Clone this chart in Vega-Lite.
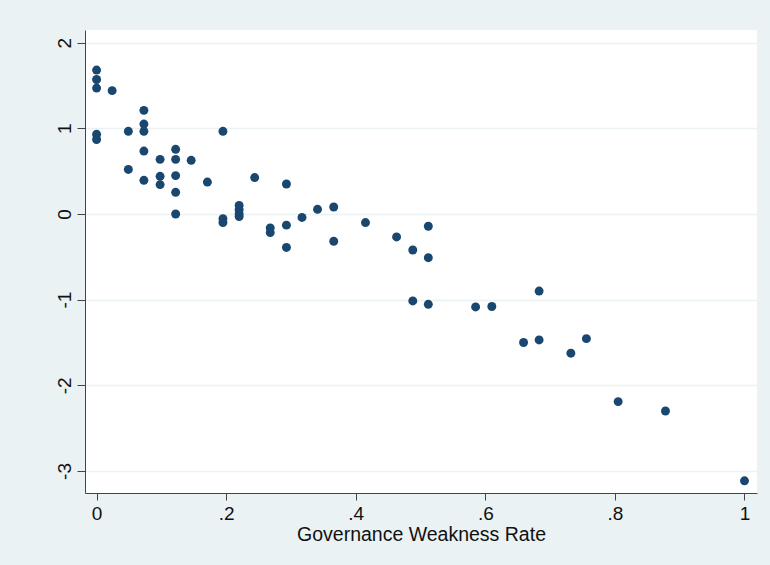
{
  "$schema": "https://vega.github.io/schema/vega-lite/v6.json",
  "width": 672,
  "height": 463,
  "autosize": {"type": "none"},
  "padding": {"left": 85, "top": 30, "right": 13, "bottom": 72},
  "background": "#EAF2F3",
  "config": {
    "view": {"fill": "white", "stroke": null},
    "font": "Liberation Sans"
  },
  "data": {
    "values": [
      {"rate": 0.0, "score": 1.68},
      {"rate": 0.0, "score": 1.57},
      {"rate": 0.0, "score": 1.47},
      {"rate": 0.0, "score": 0.93},
      {"rate": 0.0, "score": 0.87},
      {"rate": 0.024, "score": 1.44},
      {"rate": 0.049, "score": 0.965},
      {"rate": 0.049, "score": 0.52},
      {"rate": 0.073, "score": 1.21},
      {"rate": 0.073, "score": 1.05},
      {"rate": 0.073, "score": 0.965},
      {"rate": 0.073, "score": 0.735},
      {"rate": 0.073, "score": 0.393},
      {"rate": 0.098, "score": 0.638},
      {"rate": 0.098, "score": 0.44},
      {"rate": 0.098, "score": 0.343},
      {"rate": 0.122, "score": 0.755},
      {"rate": 0.122, "score": 0.638},
      {"rate": 0.122, "score": 0.448},
      {"rate": 0.122, "score": 0.253},
      {"rate": 0.122, "score": 0.0},
      {"rate": 0.146, "score": 0.627},
      {"rate": 0.171, "score": 0.373},
      {"rate": 0.195, "score": 0.965},
      {"rate": 0.195, "score": -0.054},
      {"rate": 0.195, "score": -0.10},
      {"rate": 0.22, "score": 0.10},
      {"rate": 0.22, "score": 0.05},
      {"rate": 0.22, "score": 0.0},
      {"rate": 0.22, "score": -0.03},
      {"rate": 0.244, "score": 0.425},
      {"rate": 0.268, "score": -0.163},
      {"rate": 0.268, "score": -0.217},
      {"rate": 0.293, "score": 0.35},
      {"rate": 0.293, "score": -0.13},
      {"rate": 0.293, "score": -0.39},
      {"rate": 0.317, "score": -0.04},
      {"rate": 0.341, "score": 0.055},
      {"rate": 0.366, "score": 0.082},
      {"rate": 0.366, "score": -0.318},
      {"rate": 0.415, "score": -0.10},
      {"rate": 0.463, "score": -0.268},
      {"rate": 0.488, "score": -0.42},
      {"rate": 0.488, "score": -1.015},
      {"rate": 0.512, "score": -0.143},
      {"rate": 0.512, "score": -0.51},
      {"rate": 0.512, "score": -1.054},
      {"rate": 0.585, "score": -1.085},
      {"rate": 0.61, "score": -1.08},
      {"rate": 0.659, "score": -1.50},
      {"rate": 0.683, "score": -0.90},
      {"rate": 0.683, "score": -1.47},
      {"rate": 0.732, "score": -1.625},
      {"rate": 0.756, "score": -1.455},
      {"rate": 0.805, "score": -2.19},
      {"rate": 0.878, "score": -2.30},
      {"rate": 1.0, "score": -3.115}
    ]
  },
  "mark": {"type": "circle", "size": 80, "color": "#1A476F", "opacity": 1},
  "encoding": {
    "x": {
      "field": "rate",
      "type": "quantitative",
      "scale": {"domain": [-0.0179, 1.0193], "nice": false, "zero": false},
      "axis": {
        "title": "Governance Weakness Rate",
        "values": [0, 0.2, 0.4, 0.6, 0.8, 1],
        "labelExpr": "datum.value == 0 ? '0' : datum.value == 1 ? '1' : replace(format(datum.value, '.1f'), '0.', '.')",
        "grid": false,
        "domainColor": "#444",
        "domainWidth": 1,
        "tickColor": "#444",
        "tickSize": 7,
        "labelPadding": 4,
        "labelFontSize": 19,
        "labelColor": "#111",
        "labelFont": "Liberation Sans",
        "titleFont": "Liberation Sans",
        "titleFontSize": 19.5,
        "titleFontWeight": "normal",
        "titleColor": "#111",
        "titlePadding": 2
      }
    },
    "y": {
      "field": "score",
      "type": "quantitative",
      "scale": {"domain": [-3.257, 2.148], "nice": false, "zero": false},
      "axis": {
        "title": null,
        "values": [-3, -2, -1, 0, 1, 2],
        "labelExpr": "'' + datum.value",
        "grid": true,
        "gridColor": "#EAF2F3",
        "gridWidth": 1.6,
        "domainColor": "#444",
        "domainWidth": 1,
        "tickColor": "#444",
        "tickSize": 8,
        "labelAngle": -90,
        "labelAlign": "center",
        "labelBaseline": "alphabetic",
        "labelPadding": 7,
        "labelFontSize": 19,
        "labelColor": "#111",
        "labelFont": "Liberation Sans"
      }
    }
  }
}
